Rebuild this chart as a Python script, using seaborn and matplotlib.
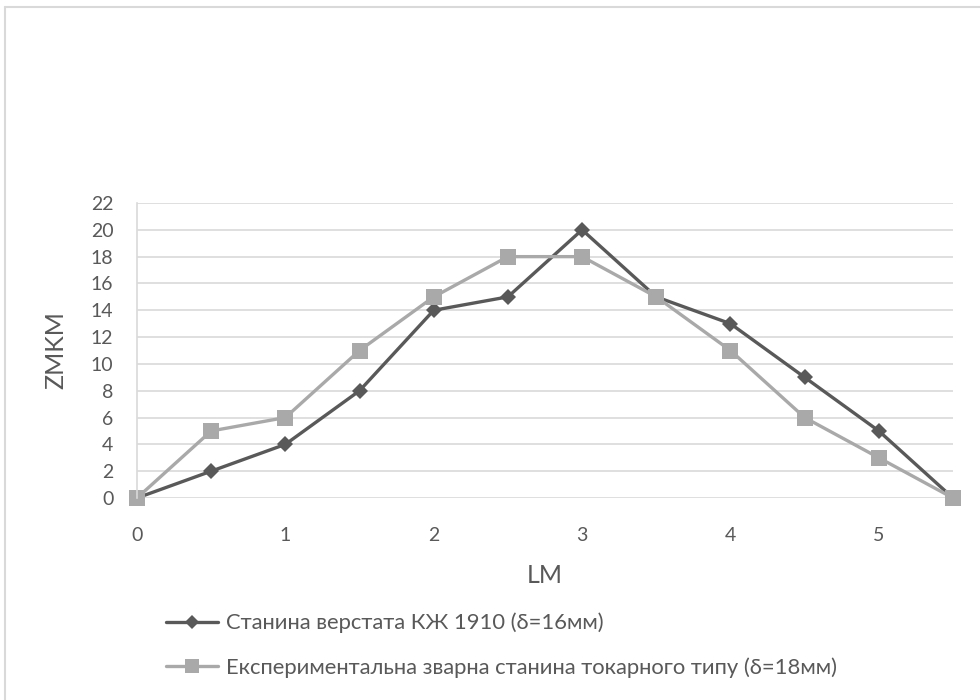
import matplotlib
matplotlib.use("Agg")
import matplotlib.pyplot as plt
from matplotlib.lines import Line2D
import seaborn as sns
import pandas as pd

# Deflection measurements along the bed length
lm = [0, 0.5, 1, 1.5, 2, 2.5, 3, 3.5, 4, 4.5, 5, 5.5]
kzh1910 = [0, 2, 4, 8, 14, 15, 20, 15, 13, 9, 5, 0]
welded = [0, 5, 6, 11, 15, 18, 18, 15, 11, 6, 3, 0]

name_1 = "Станина верстата КЖ 1910 (δ=16мм)"
name_2 = "Експериментальна зварна станина токарного типу (δ=18мм)"

x_ticks = [0, 1, 2, 3, 4, 5]
y_ticks = [0, 2, 4, 6, 8, 10, 12, 14, 16, 18, 20, 22]

df = pd.DataFrame({
    "LM": lm + lm,
    "ZMKM": kzh1910 + welded,
    "series": [name_1] * len(lm) + [name_2] * len(lm),
})

sns.set_theme(style="white")
plt.rcParams["font.family"] = ["Lato", "DejaVu Sans"]

dark = "#595959"
light = "#a9a9a9"
grid = "#d9d9d9"
text_c = "#595959"

fig = plt.figure(figsize=(9.8, 7.0), dpi=100)
ax = fig.add_axes([137 / 980, 1 - 498 / 700, (953 - 137) / 980, (498 - 203) / 700])

sns.lineplot(
    data=df, x="LM", y="ZMKM", hue="series", style="series",
    hue_order=[name_1, name_2], style_order=[name_1, name_2],
    palette={name_1: dark, name_2: light},
    markers={name_1: "D", name_2: "s"}, dashes=False,
    linewidth=2.4, markeredgewidth=0, ax=ax, legend=False,
)
for ln, ms in zip(ax.lines, [8.5, 11.5]):
    ln.set_markersize(ms)
    ln.set_clip_on(False)

ax.set_xlim(0, 5.5)
ax.set_ylim(0, 22)
ax.set_xticks(x_ticks)
ax.set_yticks(y_ticks)
ax.yaxis.grid(True, color=grid, linewidth=1.2)
ax.set_axisbelow(True)
for s in ax.spines.values():
    s.set_visible(False)
ax.spines["left"].set_visible(True)
ax.spines["left"].set_color(grid)
ax.spines["left"].set_linewidth(1.2)
ax.tick_params(axis="both", length=0, labelsize=14, colors=text_c)
ax.tick_params(axis="x", pad=21)
ax.tick_params(axis="y", pad=17)
ax.set_xlabel("LM", fontsize=18, color=text_c, labelpad=14)
ax.set_ylabel("ZMKM", fontsize=18, color=text_c, labelpad=17)

handles = [
    Line2D([], [], color=dark, lw=2.4, marker="D", markersize=7, markeredgewidth=0),
    Line2D([], [], color=light, lw=2.4, marker="s", markersize=10, markeredgewidth=0),
]
fig.legend(handles, [name_1, name_2], loc="upper left",
           bbox_to_anchor=(146 / 980, 1 - 593 / 700), frameon=False,
           fontsize=15.8, labelcolor=text_c, handlelength=2.4,
           handletextpad=0.36, labelspacing=1.08)

# Chart frame edges
fig.add_artist(Line2D([5 / 980, 5 / 980], [0, 1 - 7 / 700], color=grid, lw=1.5,
                      transform=fig.transFigure))
fig.add_artist(Line2D([5 / 980, 1], [1 - 7 / 700, 1 - 7 / 700], color=grid, lw=1.5,
                      transform=fig.transFigure))

fig.savefig("out.png", dpi=100, facecolor="white")
